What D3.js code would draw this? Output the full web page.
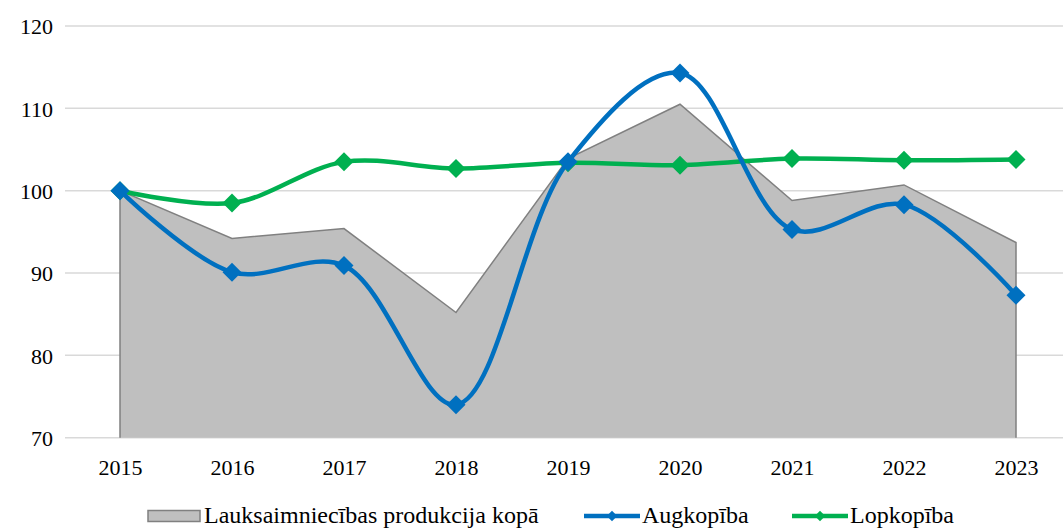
<!DOCTYPE html>
<meta charset="utf-8">
<style>
  body { margin: 0; background: #fff; }
  .grid line { stroke: #d9d9d9; stroke-width: 1.5px; }
</style>
<svg width="1063" height="529"></svg>
<script src="https://d3js.org/d3.v7.min.js"></script>
<script>
  var years = ["2015", "2016", "2017", "2018", "2019", "2020", "2021", "2022", "2023"];
  var kopa = [100, 94.2, 95.4, 85.2, 103.9, 110.5, 98.8, 100.7, 93.7];
  var augkopiba = [100, 90.1, 90.9, 74.0, 103.5, 114.3, 95.3, 98.3, 87.3];
  var lopkopiba = [100, 98.5, 103.5, 102.7, 103.4, 103.1, 103.9, 103.7, 103.8];
  var yTicks = [70, 80, 90, 100, 110, 120];
  var legendNames = ["Lauksaimniecības produkcija kopā", "Augkopība", "Lopkopība"];

  var FONT = "Liberation Serif";
  var svg = d3.select("svg");

  var x = d3.scalePoint().domain(years).range([120, 1016]);
  var y = d3.scaleLinear().domain([70, 120]).range([437.7, 26]);

  // gridlines
  svg.append("g").attr("class", "grid")
    .selectAll("line")
    .data(yTicks)
    .enter().append("line")
    .attr("x1", 65).attr("x2", 1063)
    .attr("y1", function(d) { return y(d); })
    .attr("y2", function(d) { return y(d); });

  // y axis labels
  var yAxis = d3.axisLeft(y).tickValues(yTicks).tickSize(0).tickPadding(0);
  var gy = svg.append("g").attr("transform", "translate(53,0)").call(yAxis)
    .attr("font-family", FONT).attr("font-size", 22);
  gy.select(".domain").remove();
  gy.selectAll("text").attr("dy", "0.35em").attr("fill", "#000");

  // x axis labels
  var xAxis = d3.axisBottom(x).tickSize(0).tickPadding(0);
  var gx = svg.append("g").attr("transform", "translate(0,459.5)").call(xAxis)
    .attr("font-family", FONT).attr("font-size", 22);
  gx.select(".domain").remove();
  gx.selectAll("text").attr("dy", "0.71em").attr("fill", "#000");

  // area series
  var area = d3.area()
    .x(function(d, i) { return x(years[i]); })
    .y0(y(70))
    .y1(function(d) { return y(d); });

  svg.append("path")
    .datum(kopa)
    .attr("d", area)
    .attr("fill", "#bfbfbf");

  // outline: left side, top, right side (no bottom)
  var outline = [[x(years[0]), y(70)]]
    .concat(kopa.map(function(d, i) { return [x(years[i]), y(d)]; }))
    .concat([[x(years[years.length - 1]), y(70)]]);
  svg.append("path")
    .attr("d", d3.line()(outline))
    .attr("fill", "none")
    .attr("stroke", "#808080")
    .attr("stroke-width", 1.5);

  var smooth = d3.line()
    .x(function(d, i) { return x(years[i]); })
    .y(function(d) { return y(d); })
    .curve(d3.curveCatmullRom.alpha(0.5));

  var diamond = d3.symbol().type(d3.symbolDiamond2).size(230);

  function drawSeries(values, color) {
    svg.append("path")
      .datum(values)
      .attr("d", smooth)
      .attr("fill", "none")
      .attr("stroke", color)
      .attr("stroke-width", 4.5);

    svg.append("g")
      .selectAll("path")
      .data(values)
      .enter().append("path")
      .attr("d", diamond)
      .attr("fill", color)
      .attr("transform", function(d, i) {
        return "translate(" + x(years[i]) + "," + y(d) + ")";
      });
  }

  drawSeries(lopkopiba, "#00b050");
  drawSeries(augkopiba, "#0070c0");

  // legend
  var legend = svg.append("g").attr("transform", "translate(0,516)")
    .attr("font-family", FONT).attr("font-size", 24);

  legend.append("rect")
    .attr("x", 148).attr("y", -5.5)
    .attr("width", 52).attr("height", 11)
    .attr("fill", "#bfbfbf")
    .attr("stroke", "#808080")
    .attr("stroke-width", 1.5);
  legend.append("text").attr("x", 204).attr("y", -1).attr("dy", "0.35em")
    .text(legendNames[0]);

  var smallDiamond = d3.symbol().type(d3.symbolDiamond2).size(70);
  [[584, "#0070c0", legendNames[1]], [792, "#00b050", legendNames[2]]].forEach(function(l) {
    legend.append("line")
      .attr("x1", l[0]).attr("x2", l[0] + 56)
      .attr("y1", 0).attr("y2", 0)
      .attr("stroke", l[1]).attr("stroke-width", 4.5);
    legend.append("path")
      .attr("d", smallDiamond)
      .attr("fill", l[1])
      .attr("transform", "translate(" + (l[0] + 28) + ",0)");
    legend.append("text").attr("x", l[0] + 58).attr("y", -1).attr("dy", "0.35em")
      .text(l[2]);
  });
</script>
